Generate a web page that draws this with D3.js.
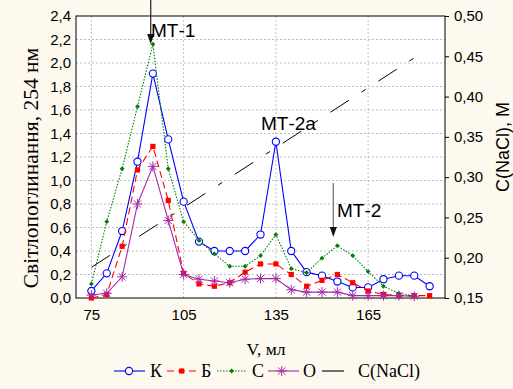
<!DOCTYPE html>
<html>
<head>
<meta charset="utf-8">
<script src="https://cdn.jsdelivr.net/npm/d3@7"></script>
<style>
  body { margin: 0; background: #fdf9ef; }
  svg { display: block; }
</style>
</head>
<body>
<div id="chart"></div>
<script>
// volumes, ml
const volume = [75, 80, 85, 90, 95, 100, 105, 110, 115, 120, 125, 130, 135, 140, 145, 150, 155, 160, 165, 170, 175, 180, 185];
// absorbance at 254 nm
const seriesK = [0.06, 0.21, 0.57, 1.16, 1.91, 1.35, 0.82, 0.48, 0.40, 0.40, 0.40, 0.54, 1.33, 0.40, 0.22, 0.19, 0.14, 0.09, 0.09, 0.16, 0.19, 0.19, 0.10];
const seriesB = [0.00, 0.03, 0.44, 1.09, 1.29, 0.83, 0.21, 0.12, 0.10, 0.13, 0.22, 0.29, 0.29, 0.20, 0.10, 0.15, 0.20, 0.13, 0.06, 0.03, 0.02, 0.02, 0.02];
const seriesC = [0.12, 0.65, 1.10, 1.63, 2.16, 1.10, 0.65, 0.49, 0.375, 0.27, 0.27, 0.36, 0.54, 0.25, 0.215, 0.34, 0.445, 0.36, 0.225, 0.10, 0.04, 0.02, null];
const seriesO = [0.025, 0.04, 0.18, 0.80, 1.12, 0.66, 0.20, 0.16, 0.145, 0.13, 0.16, 0.165, 0.165, 0.07, 0.05, 0.05, 0.05, 0.02, 0.02, 0.02, 0.02, 0.015, null];
// NaCl gradient (right axis)
const naclVolume = [75, 182];
const naclConc = [0.188, 0.453];

const xTicks = [75, 105, 135, 165];
const yTicks = [0, 0.2, 0.4, 0.6, 0.8, 1.0, 1.2, 1.4, 1.6, 1.8, 2.0, 2.2, 2.4];
const y2Ticks = [0.15, 0.20, 0.25, 0.30, 0.35, 0.40, 0.45, 0.50];

const legendNames = ["К", "Б", "С", "О", "C(NaCl)"];

let margin = {top: 16, right: 68, bottom: 91, left: 76},
    width = 513 - margin.left - margin.right,
    height = 389 - margin.top - margin.bottom;

const fullSvg = d3.select("#chart")
    .append("svg")
    .attr("width", 513)
    .attr("height", 389);

const svg = fullSvg.append("g")
    .attr("transform", `translate(${margin.left}, ${margin.top})`);

const x = d3.scaleLinear().domain([70, 190]).range([0, width]);
const y = d3.scaleLinear().domain([0, 2.4]).range([height, 0]);
const y2 = d3.scaleLinear().domain([0.15, 0.50]).range([height, 0]);

// plot background
svg.append("rect").attr("width", width).attr("height", height).attr("fill", "#fff");

// grid
svg.append("g").selectAll("line")
    .data(yTicks.slice(1, -1))
    .join("line")
    .attr("x1", 0).attr("x2", width)
    .attr("y1", d => y(d)).attr("y2", d => y(d))
    .attr("stroke", "#bdbdbd").attr("stroke-dasharray", "2,2");
svg.append("g").selectAll("line")
    .data(xTicks)
    .join("line")
    .attr("y1", 0).attr("y2", height)
    .attr("x1", d => x(d)).attr("x2", d => x(d))
    .attr("stroke", "#bdbdbd").attr("stroke-dasharray", "2,2");

// axes
const axisFont = "'Liberation Sans', Arial, sans-serif";
const gx = svg.append("g")
    .attr("transform", `translate(0, ${height})`)
    .call(d3.axisBottom(x).tickValues(xTicks).tickSize(0).tickPadding(11));
const gy = svg.append("g")
    .call(d3.axisLeft(y).tickValues(yTicks).tickSize(0).tickPadding(5).tickFormat(d => d.toFixed(1).replace(".", ",")));
const gy2 = svg.append("g")
    .attr("transform", `translate(${width}, 0)`)
    .call(d3.axisRight(y2).tickValues(y2Ticks).tickSize(4).tickPadding(5).tickFormat(d => d.toFixed(2).replace(".", ",")));
[gx, gy, gy2].forEach(g => {
    g.select(".domain").remove();
    g.selectAll("text").attr("font-family", axisFont).attr("font-size", 15).attr("fill", "#000");
    g.selectAll("line").attr("stroke", "#000");
});

// frame
svg.append("rect").attr("width", width).attr("height", height)
    .attr("fill", "none").attr("stroke", "#000").attr("stroke-width", 1);

// NaCl gradient line
const naclData = naclVolume.map((v, i) => [v, naclConc[i]]);
svg.append("path")
    .datum(naclData)
    .attr("fill", "none")
    .attr("stroke", "#000")
    .attr("stroke-width", 1)
    .attr("stroke-dasharray", "22,15,5,15")
    .attr("d", d3.line().x(d => x(d[0])).y(d => y2(d[1])));

// series
const series = [
    {name: "К", values: seriesK, color: "#0000ff", dash: null, marker: "circle"},
    {name: "Б", values: seriesB, color: "#ff0000", dash: "7,4", marker: "square"},
    {name: "С", values: seriesC, color: "#008000", dash: "1.5,1.5", marker: "diamond"},
    {name: "О", values: seriesO, color: "#a52aa5", dash: null, marker: "star"}
];

function drawMarker(g, type, color) {
    if (type === "circle") {
        g.append("circle").attr("r", 3.6).attr("fill", "#fff").attr("stroke", color).attr("stroke-width", 1.1);
    } else if (type === "square") {
        g.append("rect").attr("x", -2.6).attr("y", -2.6).attr("width", 5.2).attr("height", 5.2).attr("fill", color);
    } else if (type === "diamond") {
        g.append("path").attr("d", "M0,-2.4L2.4,0L0,2.4L-2.4,0Z").attr("fill", color);
    } else if (type === "star") {
        g.append("path")
            .attr("d", "M-5,0L5,0M0,-5L0,5M-3.6,-3.6L3.6,3.6M-3.6,3.6L3.6,-3.6")
            .attr("stroke", color).attr("stroke-width", 1).attr("fill", "none");
    }
}

series.forEach(s => {
    const pts = volume.map((v, i) => [v, s.values[i]]);
    svg.append("path")
        .datum(pts)
        .attr("fill", "none")
        .attr("stroke", s.color)
        .attr("stroke-width", 1.1)
        .attr("stroke-dasharray", s.dash)
        .attr("d", d3.line().defined(d => d[1] !== null).x(d => x(d[0])).y(d => y(d[1])));
    svg.append("g").selectAll("g")
        .data(pts.filter(d => d[1] !== null))
        .join("g")
        .attr("transform", d => `translate(${x(d[0])}, ${y(d[1])})`)
        .each(function() { drawMarker(d3.select(this), s.marker, s.color); });
});

// annotations
function arrow(xp, y1, y2p, lineColor) {
    fullSvg.append("line")
        .attr("x1", xp).attr("x2", xp).attr("y1", y1).attr("y2", y2p - 6)
        .attr("stroke", lineColor).attr("stroke-width", 1.3);
    fullSvg.append("path")
        .attr("d", `M${xp - 3.5},${y2p - 10}L${xp + 3.5},${y2p - 10}L${xp},${y2p}Z`)
        .attr("fill", "#111");
}
arrow(150.7, 0, 44, "#333");
arrow(333.3, 183, 237, "#777");

const noteFont = "'Liberation Sans', Arial, sans-serif";
fullSvg.append("text").attr("x", 151).attr("y", 37).text("МТ-1")
    .attr("font-family", noteFont).attr("font-size", 19);
fullSvg.append("text").attr("x", 261).attr("y", 130).text("МТ-2a")
    .attr("font-family", noteFont).attr("font-size", 19);
fullSvg.append("text").attr("x", 337).attr("y", 217).text("МТ-2")
    .attr("font-family", noteFont).attr("font-size", 19);

// axis labels
const serif = "'Liberation Serif', 'Times New Roman', serif";
fullSvg.append("text")
    .attr("transform", "translate(38, 168) rotate(-90)")
    .attr("text-anchor", "middle")
    .attr("font-family", serif).attr("font-size", 21.5)
    .text("Світлопоглинання, 254 нм");
fullSvg.append("text")
    .attr("transform", "translate(509, 147) rotate(-90)")
    .attr("text-anchor", "middle")
    .attr("font-family", noteFont).attr("font-size", 18)
    .text("C(NaCl), M");
fullSvg.append("text")
    .attr("x", 266).attr("y", 355)
    .attr("text-anchor", "middle")
    .attr("font-family", serif).attr("font-size", 17.5)
    .text("V, мл");

// legend
const legendItems = [
    {x1: 114, x2: 145, mx: 129, tx: 150, s: series[0]},
    {x1: 167, x2: 199, mx: 181.7, tx: 201, s: series[1]},
    {x1: 217, x2: 247, mx: 231.7, tx: 252, s: series[2]},
    {x1: 268, x2: 299, mx: 281.7, tx: 303, s: series[3]},
    {x1: 322, x2: 344, mx: null, tx: 358, s: {color: "#000", dash: null, marker: null}}
];
const ly = 371;
legendItems.forEach((it, i) => {
    fullSvg.append("line")
        .attr("x1", it.x1).attr("x2", it.x2).attr("y1", ly).attr("y2", ly)
        .attr("stroke", it.s.color).attr("stroke-width", 1.1)
        .attr("stroke-dasharray", it.s.dash);
    if (it.s.marker) {
        const g = fullSvg.append("g").attr("transform", `translate(${it.mx}, ${ly})`);
        drawMarker(g, it.s.marker, it.s.color);
    }
    fullSvg.append("text")
        .attr("x", it.tx).attr("y", ly + 6)
        .attr("font-family", serif).attr("font-size", 18)
        .text(legendNames[i]);
});
</script>
</body>
</html>
